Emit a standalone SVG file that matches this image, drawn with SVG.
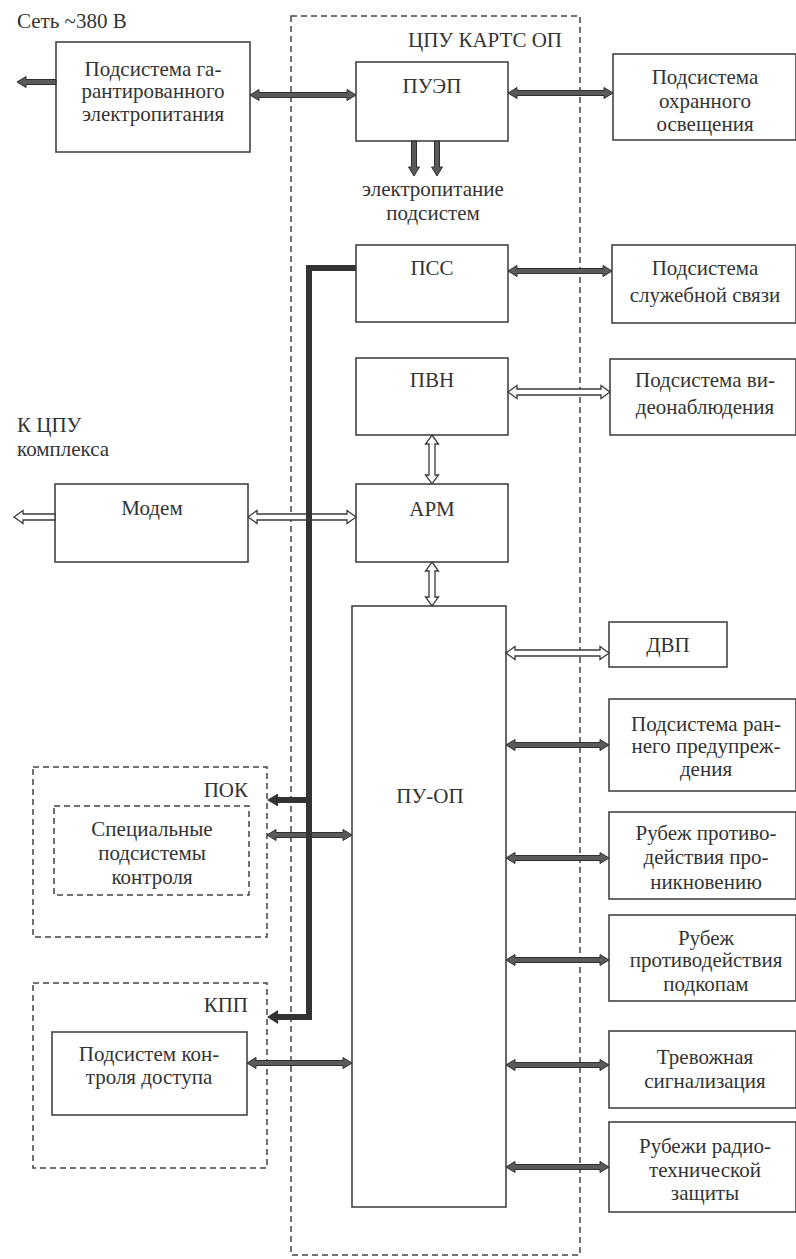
<svg xmlns="http://www.w3.org/2000/svg" width="796" height="1259" viewBox="0 0 796 1259">
<style>
.box{fill:#fff;stroke:#444;stroke-width:1.6}
.dash{fill:none;stroke:#444;stroke-width:1.5;stroke-dasharray:6 4}
.t{font-family:'Liberation Serif','DejaVu Serif',serif;font-size:21px;fill:#333;text-anchor:middle}
.s{text-anchor:start}
.e{text-anchor:end}
.ta{fill:#5a5a5a;stroke:#2e2e2e;stroke-width:1}
.ha{fill:#fff;stroke:#3a3a3a;stroke-width:1.3}
.bus{fill:none;stroke:#333;stroke-width:6}
</style>
<defs>
<polygon id="dh" class="ta" points="0,0 9,-5.5 9,-2.5 94,-2.5 94,-5.5 103,0 94,5.5 94,2.5 9,2.5 9,5.5"/>
</defs>
<rect width="796" height="1259" fill="#fff"/>
<g font-family="Liberation Serif, DejaVu Serif, serif">
<g id="cpu-frame">
<rect class="dash" x="291" y="16" width="289" height="1239"/>
<text class="t" x="485" y="47">ЦПУ КАРТС ОП</text>
</g>

<g id="net-label"><text class="t s" x="17" y="28">Сеть  ~380 В</text></g>

<g id="garant">
<rect class="box" x="56" y="42" width="194" height="110"/>
<text class="t" x="153" y="76">Подсистема га-</text>
<text class="t" x="153" y="98">рантированного</text>
<text class="t" x="153" y="121">электропитания</text>
</g>

<g id="puep">
<rect class="box" x="356" y="62" width="152" height="79"/>
<text class="t" x="432" y="93">ПУЭП</text>
</g>

<g id="osvesh">
<rect class="box" x="613" y="54" width="183" height="86"/>
<text class="t" x="705" y="84">Подсистема</text>
<text class="t" x="705" y="108">охранного</text>
<text class="t" x="705" y="131">освещения</text>
</g>

<g id="power-label">
<text class="t" x="433" y="196">электропитание</text>
<text class="t" x="433" y="220">подсистем</text>
</g>

<g id="pss">
<rect class="box" x="356" y="245" width="152" height="77"/>
<text class="t" x="432" y="275">ПСС</text>
</g>

<g id="sluzh">
<rect class="box" x="612" y="245" width="184" height="78"/>
<text class="t" x="705" y="275">Подсистема</text>
<text class="t" x="705" y="302">служебной связи</text>
</g>

<g id="pvn">
<rect class="box" x="356" y="358" width="152" height="77"/>
<text class="t" x="432" y="387">ПВН</text>
</g>

<g id="video">
<rect class="box" x="610" y="359" width="186" height="76"/>
<text class="t" x="705" y="387">Подсистема ви-</text>
<text class="t" x="705" y="414">деонаблюдения</text>
</g>

<g id="kcpu-label">
<text class="t s" x="17" y="432">К ЦПУ</text>
<text class="t s" x="17" y="456">комплекса</text>
</g>

<g id="modem">
<rect class="box" x="55" y="484" width="193" height="78"/>
<text class="t" x="152" y="515">Модем</text>
</g>

<g id="arm">
<rect class="box" x="356" y="484" width="152" height="78"/>
<text class="t" x="432" y="516">АРМ</text>
</g>

<g id="puop">
<rect class="box" x="352" y="606" width="154" height="601"/>
<text class="t" x="430" y="803">ПУ-ОП</text>
</g>

<g id="dvp">
<rect class="box" x="609" y="622" width="118" height="45"/>
<text class="t" x="668" y="652">ДВП</text>
</g>

<g id="rannee">
<rect class="box" x="609" y="699" width="187" height="92"/>
<text class="t" x="706" y="731">Подсистема ран-</text>
<text class="t" x="706" y="753">него предупреж-</text>
<text class="t" x="706" y="776">дения</text>
</g>

<g id="pronik">
<rect class="box" x="609" y="812" width="187" height="87"/>
<text class="t" x="706" y="840">Рубеж противо-</text>
<text class="t" x="706" y="864">действия про-</text>
<text class="t" x="706" y="889">никновению</text>
</g>

<g id="podkop">
<rect class="box" x="609" y="915" width="187" height="86"/>
<text class="t" x="706" y="945">Рубеж</text>
<text class="t" x="706" y="967">противодействия</text>
<text class="t" x="706" y="991">подкопам</text>
</g>

<g id="trevoga">
<rect class="box" x="609" y="1031" width="187" height="77"/>
<text class="t" x="705" y="1064">Тревожная</text>
<text class="t" x="705" y="1088">сигнализация</text>
</g>

<g id="radio">
<rect class="box" x="609" y="1122" width="187" height="90"/>
<text class="t" x="705" y="1153">Рубежи радио-</text>
<text class="t" x="705" y="1177">технической</text>
<text class="t" x="705" y="1200">защиты</text>
</g>

<g id="pok">
<rect class="dash" x="33" y="767" width="234" height="170"/>
<text class="t e" x="248" y="797">ПОК</text>
<rect class="dash" x="54" y="806" width="195" height="89"/>
<text class="t" x="152" y="836">Специальные</text>
<text class="t" x="152" y="860">подсистемы</text>
<text class="t" x="152" y="884">контроля</text>
</g>

<g id="kpp">
<rect class="dash" x="33" y="983" width="234" height="185"/>
<text class="t e" x="248" y="1012">КПП</text>
<rect class="box" x="52" y="1032" width="195" height="83"/>
<text class="t" x="149" y="1061">Подсистем кон-</text>
<text class="t" x="149" y="1084">троля доступа</text>
</g>

<g id="connectors">
<polygon class="ta" points="17,82 26,76.5 26,79.5 56,79.5 56,84.5 26,84.5 26,87.5"/>
<polygon class="ta" points="250,95 259,89.5 259,92.5 347,92.5 347,89.5 356,95 347,100.5 347,97.5 259,97.5 259,100.5"/>
<polygon class="ta" points="508,93 517,87.5 517,90.5 604,90.5 604,87.5 613,93 604,98.5 604,95.5 517,95.5 517,98.5"/>
<polygon class="ta" points="411.5,141 416.5,141 416.5,167 419.5,167 414,176 408.5,167 411.5,167"/>
<polygon class="ta" points="434.5,141 439.5,141 439.5,167 442.5,167 437,176 431.5,167 434.5,167"/>
<polygon class="ta" points="508,271 517,265.5 517,268.5 603,268.5 603,265.5 612,271 603,276.5 603,273.5 517,273.5 517,276.5"/>
<polygon class="ha" points="508,392 517,385.5 517,389 601,389 601,385.5 610,392 601,398.5 601,395 517,395 517,398.5"/>
<polygon class="ha" points="432,435 438.5,444 435,444 435,475 438.5,475 432,484 425.5,475 429,475 429,444 425.5,444"/>
<polygon class="ha" points="14,517 23,510.5 23,514 55,514 55,520 23,520 23,523.5"/>
<polygon class="ha" points="248,517 257,510.5 257,514 347,514 347,510.5 356,517 347,523.5 347,520 257,520 257,523.5"/>
<polygon class="ha" points="432,562 438.5,571 435,571 435,597 438.5,597 432,606 425.5,597 429,597 429,571 425.5,571"/>
<polygon class="ha" points="506,653 515,646.5 515,650 600,650 600,646.5 609,653 600,659.5 600,656 515,656 515,659.5"/>
<use href="#dh" x="506" y="745"/>
<use href="#dh" x="506" y="858"/>
<use href="#dh" x="506" y="960"/>
<use href="#dh" x="506" y="1065"/>
<use href="#dh" x="506" y="1167"/>
<polygon class="ta" points="267,835 276,829.5 276,832.5 343,832.5 343,829.5 352,835 343,840.5 343,837.5 276,837.5 276,840.5"/>
<polygon class="ta" points="247,1063 256,1057.5 256,1060.5 343,1060.5 343,1057.5 352,1063 343,1068.5 343,1065.5 256,1065.5 256,1068.5"/>
<path class="bus" d="M356,268 H309 V1017 H275"/>
<path class="bus" d="M309,800 H275" stroke-width="5"/>
<polygon fill="#333" points="267,1017 278,1010 278,1024"/>
<polygon fill="#333" points="267,800 278,793.5 278,806.5"/>
</g>
</g>
</svg>
